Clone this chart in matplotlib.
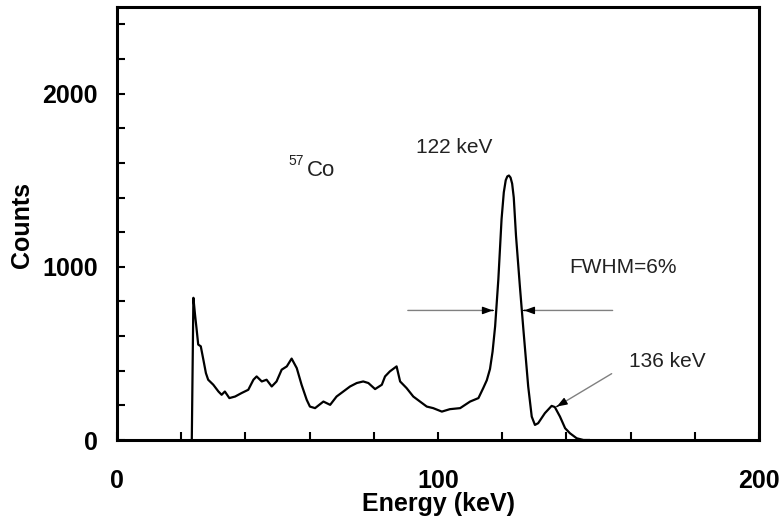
import matplotlib
matplotlib.use("Agg")
import matplotlib.pyplot as plt
from matplotlib.ticker import MultipleLocator

plt.rcParams['font.family'] = ['Liberation Sans', 'DejaVu Sans']

# 57Co pulse-height spectrum
energy_kev = [23.3, 23.8, 24.3, 24.8, 25.3, 26.1, 26.9, 27.7, 28.4, 30.0, 31.6, 32.6, 33.6,
              35.0, 36.8, 38.8, 40.9, 42.5, 43.5, 45.1, 46.6, 48.2, 49.7, 51.3, 52.9,
              54.4, 56.0, 57.5, 59.1, 60.1, 61.7, 64.3, 66.4, 68.4, 70.5, 72.6, 74.7,
              76.7, 78.3, 80.4, 82.5, 83.5, 85.0, 87.1, 88.2, 90.2, 92.3, 94.4, 96.5,
              98.5, 101.2, 103.7, 106.9, 110.0, 112.6, 114.1, 115.2, 116.2, 117.0,
              117.8, 118.8, 119.8, 120.5, 121.1, 121.6, 122.1, 122.6, 123.1, 123.6,
              124.3, 125.5, 126.6, 128.1, 129.2, 130.2, 131.2, 133.3, 135.4, 136.4,
              138.0, 139.6, 141.1, 143.2, 145.3, 147.0]
counts = [0, 821, 725, 640, 551, 541, 464, 386, 348, 319, 280, 261, 280,
          242, 251, 271, 290, 348, 367, 338, 348, 309, 338, 406, 425,
          470, 415, 319, 232, 193, 184, 222, 203, 251, 280, 309, 329,
          338, 329, 294, 319, 367, 396, 425, 338, 300, 251, 222, 193,
          184, 164, 178, 184, 222, 242, 300, 345, 410, 510,
          657, 928, 1275, 1430, 1500, 1522, 1527, 1515, 1480, 1400,
          1179, 889, 638, 309, 135, 87, 97, 155, 197, 190,
          135, 68, 39, 10, 0, 0]

x_ticks = [0, 100, 200]
y_ticks = [0, 1000, 2000]

# FWHM markers and 136 keV pointer (energy, counts)
fwhm_level = 748
fwhm_left = (90.6, 117.1)
fwhm_right = (154.4, 126.8)
pointer_136 = ((154.1, 383), (137.0, 193))

fig = plt.figure(figsize=(7.84, 5.16), dpi=100)
ax = fig.add_axes([117 / 784, 76 / 516, 642 / 784, 433 / 516])

ax.plot(energy_kev, counts, color='black', lw=1.6, solid_joinstyle='round')

ax.set_xlim(0, 200)
ax.set_ylim(0, 2500)
ax.set_xticks(x_ticks)
ax.set_yticks(y_ticks)
ax.xaxis.set_minor_locator(MultipleLocator(20))
ax.yaxis.set_minor_locator(MultipleLocator(200))
ax.tick_params(which='both', direction='in', length=6, width=1.5,
               top=False, right=False)
ax.tick_params(axis='x', which='major', pad=21, labelsize=18)
ax.tick_params(axis='y', which='major', pad=14, labelsize=18)
for lab in ax.get_xticklabels() + ax.get_yticklabels():
    lab.set_fontweight('bold')
for sp in ax.spines.values():
    sp.set_linewidth(2.2)

fig.text(439 / 784, 1 - 504 / 516, 'Energy (keV)', ha='center', va='center',
         fontsize=18, fontweight='bold')
fig.text(22 / 784, 1 - 225 / 516, 'Counts', ha='center', va='center',
         rotation=90, fontsize=18, fontweight='bold')

txt_color = '#222222'
ax.text(59.2, 1525, 'Co', ha='left', va='baseline', fontsize=16, color=txt_color)
ax.text(58.2, 1588, '57', ha='right', va='baseline', fontsize=10, color=txt_color)
ax.text(105, 1687, '122 keV', ha='center', va='center', fontsize=15, color=txt_color)
ax.text(157.6, 997, 'FWHM=6%', ha='center', va='center', fontsize=15, color=txt_color)
ax.text(171.3, 454, '136 keV', ha='center', va='center', fontsize=15, color=txt_color)


def pointer(start, end):
    # grey shaft with a small black head at the end point
    ax.annotate('', xy=end, xytext=start,
                arrowprops=dict(arrowstyle='-', color='#808080', lw=1.0,
                                shrinkA=0, shrinkB=0))
    dx = end[0] - start[0]
    dy = end[1] - start[1]
    frac = 0.001
    ax.annotate('', xy=end, xytext=(end[0] - dx * frac, end[1] - dy * frac),
                arrowprops=dict(arrowstyle='-|>,head_length=0.6,head_width=0.22',
                                color='black', lw=1.0, shrinkA=0, shrinkB=0))


pointer((fwhm_left[0], fwhm_level), (fwhm_left[1], fwhm_level))
pointer((fwhm_right[0], fwhm_level), (fwhm_right[1], fwhm_level))
pointer(pointer_136[0], pointer_136[1])

fig.savefig('out.png', dpi=100)
